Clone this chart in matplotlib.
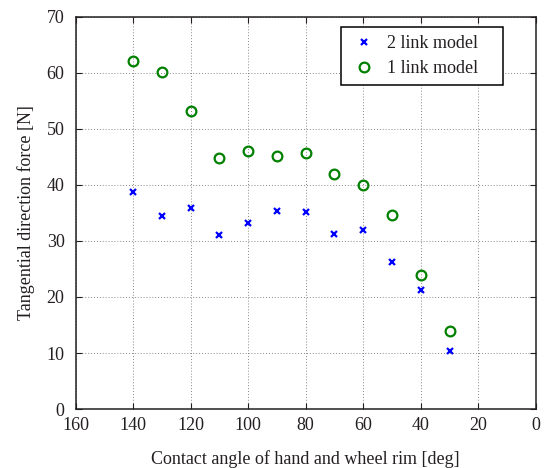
import matplotlib
matplotlib.use("Agg")
import matplotlib.pyplot as plt

# contact angle [deg]
angles = [140, 130, 120, 110, 100, 90, 80, 70, 60, 50, 40, 30]
# tangential force [N]
force_2link = [38.8, 34.5, 35.8, 31.1, 33.2, 35.4, 35.2, 31.2, 32.0, 26.3, 21.3, 10.4]
force_1link = [62.1, 60.2, 53.2, 44.8, 46.1, 45.2, 45.7, 42.0, 40.0, 34.6, 24.0, 14.0]

plt.rcParams['font.family'] = ['Liberation Serif', 'DejaVu Serif']
txt_color = '#231f20'

fig = plt.figure(figsize=(5.44, 4.68), dpi=100)
ax = fig.add_axes([0.139, 0.126, 0.846, 0.838])

ax.plot(angles, force_2link, linestyle='none', marker='x', color='blue',
        markersize=4.5, markeredgewidth=1.6, label='2 link model')
ax.plot(angles, force_1link, linestyle='none', marker='o', color='green',
        markerfacecolor='none', markersize=7, markeredgewidth=1.6, label='1 link model')

ax.set_xlim(160, 0)
ax.set_ylim(0, 70)
ax.set_xticks(range(160, -1, -20))
ax.set_yticks(range(0, 71, 10))
ax.tick_params(direction='in', top=True, right=True, labelsize=13, length=4,
               color=txt_color, labelcolor=txt_color)
ax.tick_params(axis='x', pad=6)
ax.tick_params(axis='y', pad=8)
for sp in ax.spines.values():
    sp.set_linewidth(1.1)
    sp.set_color(txt_color)
ax.grid(True, linestyle=(0, (1, 2)), color='#888888', linewidth=0.7)
ax.set_axisbelow(True)

ax.set_xlabel('Contact angle of hand and wheel rim [deg]', fontsize=13,
              labelpad=11, color=txt_color)
ax.set_ylabel('Tangential direction force [N]', fontsize=13, labelpad=8,
              color=txt_color)

leg = ax.legend(loc='upper left', bbox_to_anchor=(0.577, 0.8, 0.352, 0.174),
                mode='expand', borderaxespad=0, fontsize=13,
                fancybox=False, edgecolor='black', framealpha=1,
                handlelength=1.6, handletextpad=0.5, borderpad=0.45,
                labelspacing=0.45)
leg.get_frame().set_linewidth(1.1)
for t in leg.get_texts():
    t.set_color(txt_color)

fig.savefig('out.png', dpi=100)
